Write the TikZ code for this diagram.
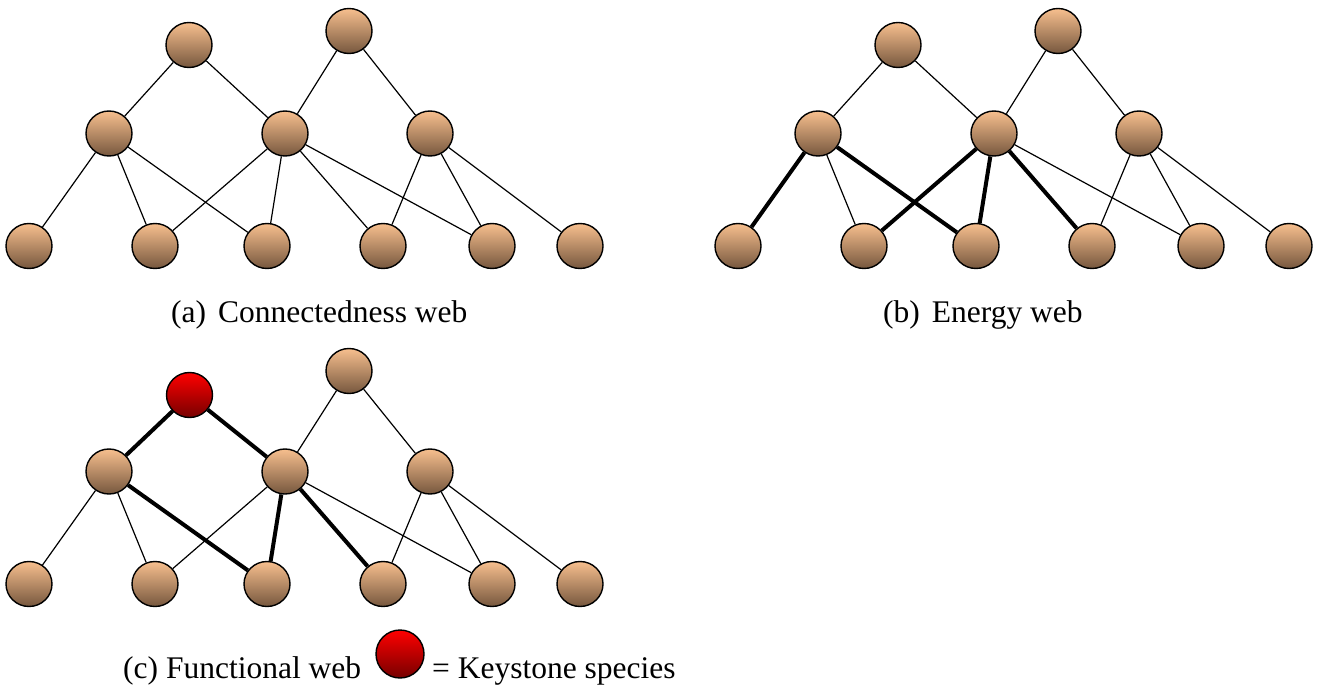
\documentclass[tikz,border=0pt]{standalone}
\usepackage{fontspec}
\setmainfont{Liberation Serif}
\usetikzlibrary{shapes.geometric}
\definecolor{peachtop}{HTML}{F7BF8E}
\definecolor{peachbot}{HTML}{76573E}
\definecolor{redtop}{HTML}{FF0000}
\definecolor{redbot}{HTML}{760000}
\tikzset{
  sp/.style={ellipse, draw=black, line width=1.4pt, minimum width=46pt, minimum height=45pt, inner sep=0pt, top color=peachtop, bottom color=peachbot},
  keysp/.style={sp, top color=redtop, bottom color=redbot},
  thinedge/.style={draw=black, line width=1.2pt},
  thickedge/.style={draw=black, line width=4pt},
  captxt/.style={inner sep=0pt, font=\fontsize{31.5}{38}\selectfont},
}
\begin{document}
\begin{tikzpicture}[x=1pt,y=-1pt]
\useasboundingbox (0,0) rectangle (1325,690);
% ---------- panels (a) and (b) ----------
\foreach \p/\dx in {a/0, b/709}{
  \begin{scope}[shift={(\dx,0)}]
    \node[sp] (\p T1) at (189,45) {};
    \node[sp] (\p T2) at (349,31) {};
    \node[sp] (\p M1) at (109,133.5) {};
    \node[sp] (\p M2) at (285,133.5) {};
    \node[sp] (\p M3) at (430,133.5) {};
    \node[sp] (\p B1) at (29,246) {};
    \node[sp] (\p B2) at (155,246) {};
    \node[sp] (\p B3) at (267,246) {};
    \node[sp] (\p B4) at (383,246) {};
    \node[sp] (\p B5) at (492,246) {};
    \node[sp] (\p B6) at (580,246) {};
  \end{scope}
}
% edges (a)
\draw[thinedge] (aT1) -- (aM1);
\draw[thinedge] (aT1) -- (aM2);
\draw[thinedge] (aT2) -- (aM2);
\draw[thinedge] (aT2) -- (aM3);
\draw[thinedge] (aM1) -- (aB1);
\draw[thinedge] (aM1) -- (aB2);
\draw[thinedge] (aM1) -- (aB3);
\draw[thinedge] (aM2) -- (aB2);
\draw[thinedge] (aM2) -- (aB3);
\draw[thinedge] (aM2) -- (aB4);
\draw[thinedge] (aM2) -- (aB5);
\draw[thinedge] (aM3) -- (aB4);
\draw[thinedge] (aM3) -- (aB5);
\draw[thinedge] (aM3) -- (aB6);
% edges (b)
\draw[thinedge] (bT1) -- (bM1);
\draw[thinedge] (bT1) -- (bM2);
\draw[thinedge] (bT2) -- (bM2);
\draw[thinedge] (bT2) -- (bM3);
\draw[thickedge] (bM1) -- (bB1);
\draw[thinedge] (bM1) -- (bB2);
\draw[thickedge] (bM1) -- (bB3);
\draw[thickedge] (bM2) -- (bB2);
\draw[thickedge] (bM2) -- (bB3);
\draw[thickedge] (bM2) -- (bB4);
\draw[thinedge] (bM2) -- (bB5);
\draw[thinedge] (bM3) -- (bB4);
\draw[thinedge] (bM3) -- (bB5);
\draw[thinedge] (bM3) -- (bB6);
% ---------- panel (c) ----------
\node[keysp] (cK) at (189.5,395) {};
\node[sp] (cT2) at (349,371) {};
\node[sp] (cM1) at (109,471.5) {};
\node[sp] (cM2) at (285,471.5) {};
\node[sp] (cM3) at (430,471.5) {};
\node[sp] (cB1) at (29,584) {};
\node[sp] (cB2) at (155,584) {};
\node[sp] (cB3) at (267,584) {};
\node[sp] (cB4) at (383,584) {};
\node[sp] (cB5) at (492,584) {};
\node[sp] (cB6) at (580,584) {};
\draw[thickedge] (cK) -- (cM1);
\draw[thickedge] (cK) -- (cM2);
\draw[thinedge] (cT2) -- (cM2);
\draw[thinedge] (cT2) -- (cM3);
\draw[thinedge] (cM1) -- (cB1);
\draw[thinedge] (cM1) -- (cB2);
\draw[thickedge] (cM1) -- (cB3);
\draw[thinedge] (cM2) -- (cB2);
\draw[thickedge] (cM2) -- (cB3);
\draw[thickedge] (cM2) -- (cB4);
\draw[thinedge] (cM2) -- (cB5);
\draw[thinedge] (cM3) -- (cB4);
\draw[thinedge] (cM3) -- (cB5);
\draw[thinedge] (cM3) -- (cB6);
% ---------- captions ----------
\node[captxt, anchor=base west] (capa) at (171,322) {(a)\hspace{0.38em}Connectedness web};
\node[captxt, anchor=base west] (capb) at (883,322) {(b)\hspace{0.38em}Energy web};
\node[captxt, anchor=base west] (capc) at (123,678) {(c) Functional web};
\node[keysp, minimum width=48pt, minimum height=48pt] (legkey) at (400,654) {};
\node[captxt, anchor=base west] (capk) at (432,678) {= Keystone species};
\end{tikzpicture}
\end{document}
